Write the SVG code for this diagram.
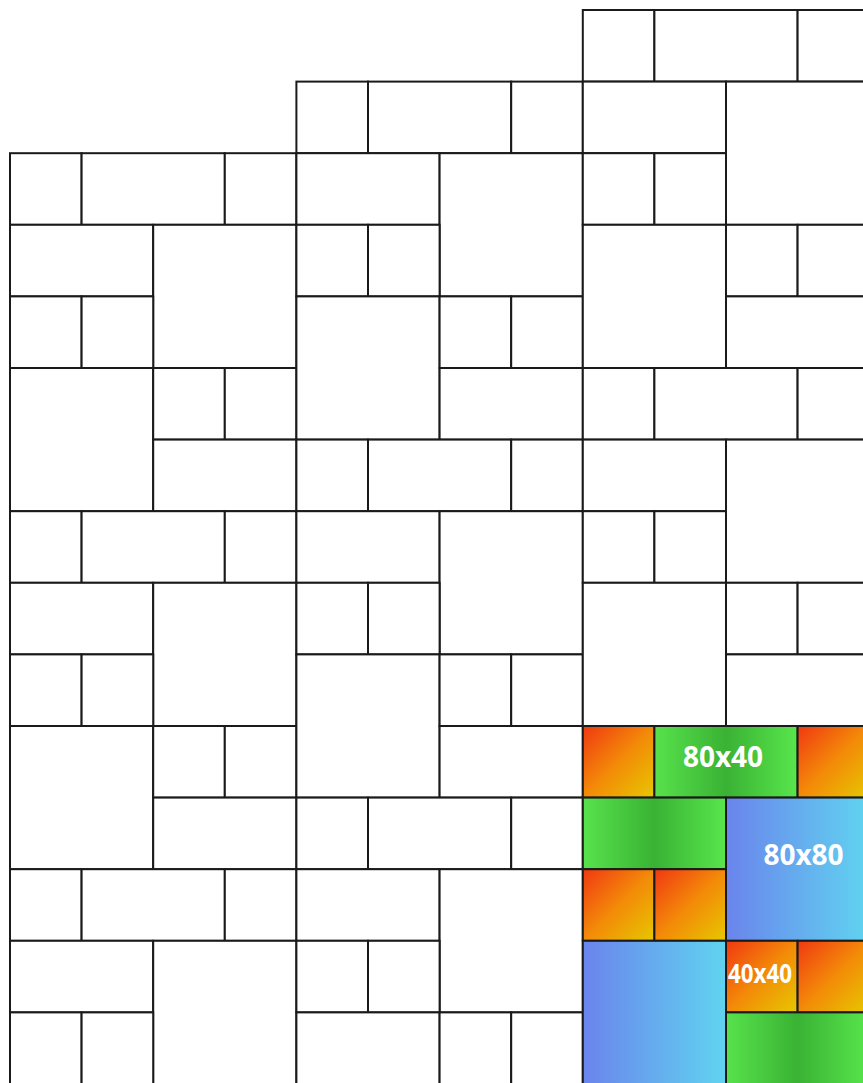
<svg xmlns="http://www.w3.org/2000/svg" xmlns:xlink="http://www.w3.org/1999/xlink" width="863" height="1083" viewBox="0 0 863 1083">
  <style>
    rect { stroke: #1a1a1a; stroke-width: 2; }
    rect.bg { stroke: none; fill: #ffffff; }
    .w { fill: #ffffff; }
    .o { fill: url(#gOrange); }
    .g { fill: url(#gGreen); }
    .b { fill: url(#gBlue); }
    text { font-family: "Noto Sans", "DejaVu Sans", sans-serif; font-weight: bold; fill: #ffffff; text-anchor: middle; }
  </style>
  <defs>
    <linearGradient id="gOrange" x1="0" y1="0" x2="1" y2="1">
      <stop offset="0" stop-color="#f03812"/>
      <stop offset="0.5" stop-color="#f38a08"/>
      <stop offset="1" stop-color="#e6c800"/>
    </linearGradient>
    <linearGradient id="gGreen" x1="0" y1="0" x2="1" y2="0">
      <stop offset="0" stop-color="#58e24c"/>
      <stop offset="0.5" stop-color="#3ab234"/>
      <stop offset="1" stop-color="#58e64c"/>
    </linearGradient>
    <linearGradient id="gBlue" x1="0" y1="0" x2="1" y2="0">
      <stop offset="0" stop-color="#6a84ec"/>
      <stop offset="1" stop-color="#60d4f0"/>
    </linearGradient>
    <g id="unit" class="w">
      <rect x="0" y="0" width="71.6" height="71.6"/>
      <rect x="71.6" y="0" width="143.2" height="71.6"/>
      <rect x="214.8" y="0" width="71.6" height="71.6"/>
      <rect x="0" y="71.6" width="143.2" height="71.6"/>
      <rect x="143.2" y="71.6" width="143.2" height="143.2"/>
      <rect x="0" y="143.2" width="71.6" height="71.6"/>
      <rect x="71.6" y="143.2" width="71.6" height="71.6"/>
      <rect x="0" y="214.8" width="143.2" height="143.2"/>
      <rect x="143.2" y="214.8" width="71.6" height="71.6"/>
      <rect x="214.8" y="214.8" width="71.6" height="71.6"/>
      <rect x="143.2" y="286.4" width="143.2" height="71.6"/>
    </g>
  </defs>
  <rect class="bg" x="0" y="0" width="863" height="1083"/>
  <g id="tiles">
    <use xlink:href="#unit" href="#unit" x="10" y="153.2"/>
    <use xlink:href="#unit" href="#unit" x="10" y="511.2"/>
    <use xlink:href="#unit" href="#unit" x="10" y="869.2"/>
    <use xlink:href="#unit" href="#unit" x="296.4" y="81.6"/>
    <use xlink:href="#unit" href="#unit" x="296.4" y="439.6"/>
    <use xlink:href="#unit" href="#unit" x="296.4" y="797.6"/>
    <use xlink:href="#unit" href="#unit" x="582.8" y="10"/>
    <use xlink:href="#unit" href="#unit" x="582.8" y="368"/>
  </g>
  <g id="colored-unit" transform="translate(582.8,726)">
    <rect class="o" x="0" y="0" width="71.6" height="71.6"/>
    <rect class="g" x="71.6" y="0" width="143.2" height="71.6"/>
    <rect class="o" x="214.8" y="0" width="71.6" height="71.6"/>
    <rect class="g" x="0" y="71.6" width="143.2" height="71.6"/>
    <rect class="b" x="143.2" y="71.6" width="143.2" height="143.2"/>
    <rect class="o" x="0" y="143.2" width="71.6" height="71.6"/>
    <rect class="o" x="71.6" y="143.2" width="71.6" height="71.6"/>
    <rect class="b" x="0" y="214.8" width="143.2" height="143.2"/>
    <rect class="o" x="143.2" y="214.8" width="71.6" height="71.6"/>
    <rect class="o" x="214.8" y="214.8" width="71.6" height="71.6"/>
    <rect class="g" x="143.2" y="286.4" width="143.2" height="71.6"/>
  </g>
  <g id="labels">
    <text x="723" y="767" font-size="28">80x40</text>
    <text x="803.5" y="865" font-size="28">80x80</text>
    <text x="760" y="983" font-size="26" textLength="64" lengthAdjust="spacingAndGlyphs">40x40</text>
  </g>
</svg>
